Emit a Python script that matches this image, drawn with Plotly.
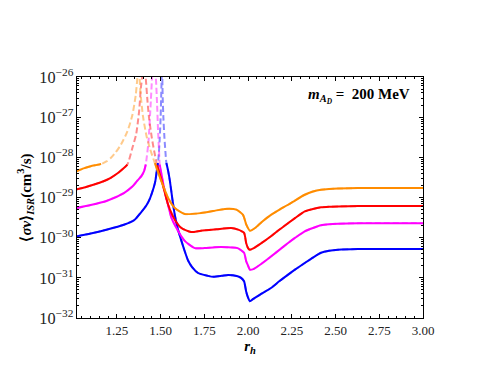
import plotly.graph_objects as go

# cross section vs r_h, m_AD = 200 MeV
orange_x = [1.02, 1.06, 1.10, 1.13, 1.16, 1.19, 1.215, 1.245, 1.273, 1.31, 1.339, 1.358, 1.367, 1.371,
            1.374, 1.377, 1.385, 1.40, 1.42, 1.44, 1.467, 1.505, 1.543, 1.581, 1.638, 1.731, 1.80,
            1.867, 1.933, 1.971, 1.99, 2.01, 2.04, 2.08, 2.131, 2.18, 2.229, 2.27, 2.324, 2.371,
            2.417, 2.463, 2.514, 2.629, 3.0]
orange_y = [4.5e-29, 5.3e-29, 6.0e-29, 6.4e-29, 6.8e-29, 7.9e-29, 9.6e-29, 1.36e-28, 2.07e-28, 4.4e-28,
            1.15e-27, 3.6e-27, 9.4e-27, 1.5e-26,
            None, 1.5e-26, 4e-27, 1.0e-27, 3.3e-28, 1.6e-28, 7.2e-29, 2.5e-29, 9.7e-30, 5.5e-30, 3.9e-30,
            4.1e-30, 4.6e-30, 5.2e-30, 5.0e-30, 3.7e-30, 2.1e-30, 1.49e-30, 1.74e-30, 2.5e-30, 3.7e-30,
            5.0e-30, 6.6e-30, 8.5e-30, 1.17e-29, 1.41e-29, 1.56e-29, 1.63e-29, 1.67e-29, 1.72e-29,
            1.72e-29]

red_x = [1.02, 1.07, 1.12, 1.17, 1.215, 1.26, 1.29, 1.31, 1.34, 1.36, 1.377, 1.387, 1.394, 1.398,
         1.405, 1.411, 1.415, 1.425, 1.434, 1.45, 1.463, 1.48, 1.51, 1.543, 1.581, 1.619, 1.674,
         1.731, 1.82, 1.903, 1.943, 1.977, 1.989, 2.0, 2.01, 2.03, 2.08, 2.131, 2.18, 2.229, 2.27,
         2.324, 2.371, 2.417, 2.463, 2.514, 2.629, 3.0]
red_y = [1.6e-29, 1.8e-29, 2.1e-29, 2.5e-29, 3.1e-29, 4.2e-29, 5.4e-29, 6.6e-29, 1.8e-28, 3.7e-28,
         1.4e-27, 5.3e-27, 9.5e-27, 1.5e-26,
         None, 1.5e-26, 9.5e-27, 2.5e-27, 9.5e-28, 3.0e-28, 1.45e-28, 6.4e-29, 2.3e-29, 6.6e-30,
         2.8e-30, 1.74e-30, 1.38e-30, 1.49e-30, 1.62e-30, 1.74e-30, 1.58e-30, 1.31e-30, 7.4e-31,
         5.5e-31, 5.0e-31, 5.4e-31, 7.5e-31, 1.08e-30, 1.6e-30, 2.3e-30, 3.1e-30, 4.5e-30, 5.2e-30,
         5.7e-30, 5.9e-30, 6.0e-30, 6.1e-30, 6.1e-30]

magenta_x = [1.02, 1.10, 1.19, 1.29, 1.34, 1.366, 1.39, 1.406, 1.415, 1.43, 1.444, 1.451, 1.455,
             1.462, 1.469, 1.473, 1.48, 1.486, 1.491, 1.495, 1.52, 1.54, 1.562, 1.60, 1.638, 1.695,
             1.75, 1.81, 1.88, 1.94, 1.977, 1.989, 2.0, 2.01, 2.03, 2.08, 2.131, 2.18, 2.229, 2.27,
             2.324, 2.371, 2.417, 2.463, 2.514, 2.629, 3.0]
magenta_y = [5.5e-30, 6.5e-30, 8.2e-30, 1.29e-29, 1.9e-29, 2.6e-29, 3.4e-29, 4.6e-29, 6.6e-29, 2.3e-28,
             2.5e-27, 9.5e-27, 1.5e-26,
             None, 1.5e-26, 9.5e-27, 2.0e-27, 4.0e-28, 1.45e-28, 6.6e-29, 1.73e-29, 7.3e-30, 3.1e-30,
             1.47e-30, 8.3e-31, 5.5e-31, 5.5e-31, 5.8e-31, 5.8e-31, 5.5e-31, 4.2e-31, 2.6e-31,
             2.0e-31, 1.6e-31, 1.65e-31, 2.3e-31, 3.4e-31, 5.0e-31, 7.4e-31, 1.0e-30, 1.44e-30,
             1.74e-30, 2.03e-30, 2.15e-30, 2.22e-30, 2.3e-30, 2.3e-30]

blue_x = [1.02, 1.10, 1.19, 1.29, 1.35, 1.385, 1.42, 1.44, 1.46, 1.47, 1.48, 1.485, 1.49, 1.495,
          1.50, 1.503, 1.507, 1.508, 1.509, 1.512, 1.516, 1.522, 1.528, 1.533, 1.543, 1.553, 1.567,
          1.581, 1.60, 1.619, 1.635, 1.657, 1.68, 1.714, 1.771, 1.80, 1.85, 1.886, 1.94, 1.96,
          1.977, 1.989, 2.0, 2.01, 2.03, 2.08, 2.131, 2.18, 2.229, 2.27, 2.324, 2.371, 2.417, 2.463,
          2.514, 2.629, 3.0]
blue_y = [1.08e-30, 1.27e-30, 1.58e-30, 2.1e-30, 2.75e-30, 4.1e-30, 6.5e-30, 9.7e-30, 1.74e-29,
          2.6e-29, 5.4e-29, 7.2e-29, 1.28e-28, 3.0e-28, 9.5e-28, 3.0e-27, 1.5e-26,
          None, 1.5e-26, 3.0e-27, 9.5e-28, 3.0e-28, 1.28e-28, 7.2e-29, 4.6e-29, 2.6e-29, 9.3e-30,
          3.7e-30, 1.55e-30, 8.3e-31, 5.0e-31, 2.7e-31, 1.85e-31, 1.32e-31, 1.12e-31, 1.06e-31,
          1.12e-31, 1.18e-31, 1.1e-31, 1.0e-31, 8.2e-32, 4.6e-32, 3.2e-32, 2.6e-32, 3.0e-32,
          4.1e-32, 5.6e-32, 8.3e-32, 1.2e-31, 1.62e-31, 2.34e-31, 3.2e-31, 4.2e-31, 4.7e-31,
          5.0e-31, 5.2e-31, 5.2e-31]

# above this the curves are drawn dashed and faded
threshold = 7.3e-29

curves = [
    (blue_x, blue_y, "#0000ff"),
    (magenta_x, magenta_y, "#ff00ff"),
    (red_x, red_y, "#ff0000"),
    (orange_x, orange_y, "#ff8c00"),
]

serif = "Liberation Serif"

fig = go.Figure()
for xs, ys, col in curves:
    fig.add_trace(go.Scatter(
        x=xs, y=ys, mode="lines", opacity=0.45,
        line=dict(color=col, width=2, dash="6px,3px", shape="spline", smoothing=0.6),
        hoverinfo="skip",
    ))
for xs, ys, col in curves:
    solid = [v if (v is not None and v <= threshold) else None for v in ys]
    fig.add_trace(go.Scatter(
        x=xs, y=solid, mode="lines",
        line=dict(color=col, width=2, shape="spline", smoothing=0.6),
    ))

fig.add_annotation(
    text="<b><i>m</i><sub><i>A<sub>D</sub></i></sub> =  200 MeV</b>",
    xref="paper", yref="paper", x=0.968, y=0.92,
    xanchor="right", yanchor="middle", showarrow=False,
    font=dict(family=serif, size=15, color="black"),
)

fig.update_xaxes(
    range=[1.022, 3.0], tick0=1.0, dtick=0.25, tickformat=".2f",
    ticks="inside", ticklen=4, tickcolor="black", mirror="allticks",
    showline=True, linecolor="black", linewidth=1, showgrid=False, zeroline=False,
    minor=dict(ticks="inside", ticklen=2, dtick=0.05, tickcolor="black"),
    tickfont=dict(family=serif, size=13, color="#222"),
    title=dict(text="<b><i>r</i><sub><i>h</i></sub></b>", standoff=2,
               font=dict(family=serif, size=15, color="black")),
)
fig.update_yaxes(
    type="log", range=[-32, -26], dtick=1, exponentformat="power",
    ticks="inside", ticklen=4, tickcolor="black", mirror="allticks",
    showline=True, linecolor="black", linewidth=1, showgrid=False, zeroline=False,
    minor=dict(ticks="inside", ticklen=2, dtick="D1", tickcolor="black"),
    tickfont=dict(family=serif, size=13, color="#222"),
    title=dict(text="<b>⟨<i>σv</i>⟩<sub><i>ISR</i></sub>(cm<sup>3</sup>/s)</b>", standoff=4,
               font=dict(family=serif, size=15, color="black")),
)

fig.update_layout(
    width=485, height=381,
    margin=dict(l=69, r=70, t=69, b=71),
    plot_bgcolor="white", paper_bgcolor="white",
    showlegend=False,
)

fig.write_html("out.html")
